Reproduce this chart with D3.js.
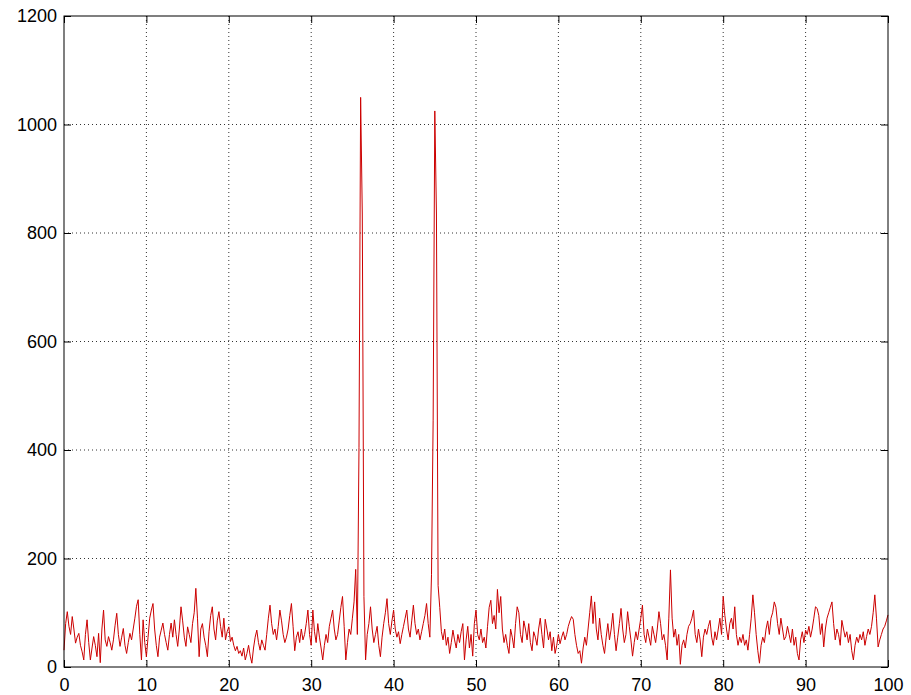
<!DOCTYPE html>
<html lang="en">
<head>
    <meta charset="UTF-8">
    <title>Spectrum</title>
    <script src="https://d3js.org/d3.v7.min.js"></script>
    <style>
        body { margin: 0; background: #fff; }
        text { font-family: "Liberation Sans", Arial, sans-serif; }
    </style>
</head>
<body>
    <svg></svg>

    <script>
        const w = 911;
        const h = 695;

        // sample spacing along x (0 : 0.2 : 100)
        const xStep = 0.2;
        const xTicks = [0, 10, 20, 30, 40, 50, 60, 70, 80, 90, 100];
        const yTicks = [0, 200, 400, 600, 800, 1000, 1200];

        // amplitude, one value per 0.2
        const amplitude = [
            31, 80, 102, 75, 60, 93, 70, 44, 55, 62,
            40, 28, 13, 60, 87, 45, 13, 35, 56, 40,
            19, 62, 8, 70, 105, 50, 38, 56, 45, 31,
            50, 77, 99, 60, 38, 55, 71, 40, 25, 45,
            62, 50, 70, 90, 112, 124, 60, 13, 87, 45,
            19, 55, 90, 105, 117, 70, 40, 19, 55, 68,
            81, 60, 45, 31, 60, 81, 55, 87, 60, 38,
            70, 111, 85, 55, 38, 74, 60, 45, 80, 100,
            145, 90, 19, 70, 80, 55, 40, 19, 65, 95,
            111, 70, 50, 85, 102, 75, 55, 90, 50, 65,
            74, 47, 55, 40, 30, 38, 25, 30, 20, 35,
            13, 25, 40, 20, 7, 35, 55, 68, 45, 31,
            50, 40, 31, 60, 90, 114, 80, 60, 70, 50,
            75, 105, 85, 60, 45, 55, 70, 95, 117, 75,
            30, 55, 65, 45, 70, 50, 60, 80, 105, 60,
            40, 105, 65, 45, 80, 55, 35, 13, 40, 60,
            45, 75, 90, 105, 70, 50, 60, 85, 110, 130,
            75, 13, 45, 70, 60, 90, 120, 180, 60, 404,
            1050, 835, 130, 13, 60, 80, 111, 70, 45, 60,
            75, 40, 19, 55, 80, 100, 126, 80, 60, 85,
            105, 70, 55, 65, 43, 60, 75, 90, 105, 70,
            55, 85, 114, 80, 60, 70, 50, 65, 80, 95,
            117, 80, 55, 170, 455, 1025, 835, 150, 110, 65,
            50, 70, 40, 55, 25, 45, 68, 50, 35, 60,
            45, 65, 80, 13, 50, 75, 35, 60, 20, 80,
            105, 60, 50, 70, 45, 55, 35, 75, 110, 123,
            80, 95, 70, 143, 100, 130, 70, 45, 60, 40,
            25, 70, 55, 35, 80, 111, 100, 60, 45, 85,
            70, 50, 80, 45, 30, 65, 55, 40, 70, 90,
            60, 35, 88, 70, 50, 65, 30, 55, 25, 40,
            60, 43, 55, 65, 50, 60, 75, 85, 93, 88,
            60, 40, 25, 30, 7, 35, 55, 40, 70, 100,
            131, 80, 120, 70, 50, 90, 60, 40, 25, 55,
            80, 50, 70, 99, 60, 30, 55, 80, 108, 70,
            45, 60, 102, 75, 50, 20, 45, 65, 50, 70,
            90, 114, 60, 45, 70, 55, 40, 75, 60, 45,
            70, 102, 80, 50, 60, 40, 13, 90, 179, 90,
            55, 70, 40, 60, 5, 40, 50, 35, 60, 75,
            80, 90, 105, 60, 45, 70, 50, 19, 55, 70,
            60, 75, 86, 55, 40, 65, 50, 70, 90, 60,
            130, 95, 70, 50, 80, 90, 70, 111, 60, 40,
            55, 45, 60, 40, 50, 31, 60, 90, 133, 100,
            60, 30, 7, 40, 55, 45, 70, 85, 60, 90,
            100, 120, 110, 80, 60, 90, 70, 50, 56, 75,
            60, 45, 70, 40, 55, 25, 13, 50, 65, 45,
            68, 60, 75, 55, 70, 90, 111, 108, 95, 60,
            80, 37, 70, 90, 100, 110, 120, 80, 50, 70,
            60, 40, 86, 70, 55, 65, 45, 60, 30, 13,
            40, 55, 45, 60, 50, 65, 40, 56, 70, 60,
            75, 100, 133, 90, 37, 50, 60, 70, 75, 85,
            96
        ];

        const margin = { top: 16, right: 23, bottom: 28, left: 64 };
        const innerW = w - margin.left - margin.right;
        const innerH = h - margin.top - margin.bottom;

        const svg = d3.select("svg")
            .attr("width", w)
            .attr("height", h);

        const g = svg.append("g")
            .attr("transform", `translate(${margin.left}, ${margin.top})`);

        const x = d3.scaleLinear().domain([0, 100]).range([0, innerW]);
        const y = d3.scaleLinear().domain([0, 1200]).range([innerH, 0]);

        // dotted grid
        g.selectAll(".gx")
            .data(xTicks.slice(1, -1))
            .enter()
            .append("line")
                .attr("x1", d => x(d)).attr("x2", d => x(d))
                .attr("y1", 0).attr("y2", innerH)
                .attr("stroke", "#333")
                .attr("stroke-width", 1)
                .attr("stroke-dasharray", "1,3");

        g.selectAll(".gy")
            .data(yTicks.slice(1, -1))
            .enter()
            .append("line")
                .attr("y1", d => y(d)).attr("y2", d => y(d))
                .attr("x1", 0).attr("x2", innerW)
                .attr("stroke", "#333")
                .attr("stroke-width", 1)
                .attr("stroke-dasharray", "1,3");

        const line = d3.line()
            .x((d, i) => x(i * xStep))
            .y(d => y(d));

        g.append("path")
            .datum(amplitude)
            .attr("fill", "none")
            .attr("stroke", "#cc0000")
            .attr("stroke-width", 1)
            .attr("d", line);

        // axes, ticks pointing inward like matlab
        const tick = 7;
        const fmt = d3.format("d");
        const xAxis = d3.axisBottom(x).tickValues(xTicks).tickFormat(fmt).tickSizeInner(-tick).tickSizeOuter(0).tickPadding(11);
        const yAxis = d3.axisLeft(y).tickValues(yTicks).tickFormat(fmt).tickSizeInner(-tick).tickSizeOuter(0).tickPadding(7);

        g.append("g")
            .attr("transform", `translate(0, ${innerH})`)
            .call(xAxis)
            .call(a => a.select(".domain").remove());

        g.append("g")
            .call(yAxis)
            .call(a => a.select(".domain").remove());

        g.append("g")
            .call(d3.axisTop(x).tickValues(xTicks).tickSizeInner(-tick).tickSizeOuter(0).tickFormat(""))
            .call(a => a.select(".domain").remove());

        g.append("g")
            .attr("transform", `translate(${innerW}, 0)`)
            .call(d3.axisRight(y).tickValues(yTicks).tickSizeInner(-tick).tickSizeOuter(0).tickFormat(""))
            .call(a => a.select(".domain").remove());

        g.selectAll(".tick text")
            .attr("font-size", 18)
            .attr("fill", "#000");

        g.append("rect")
            .attr("x", 0).attr("y", 0)
            .attr("width", innerW).attr("height", innerH)
            .attr("fill", "none")
            .attr("stroke", "#000")
            .attr("stroke-width", 1);
    </script>
</body>
</html>
